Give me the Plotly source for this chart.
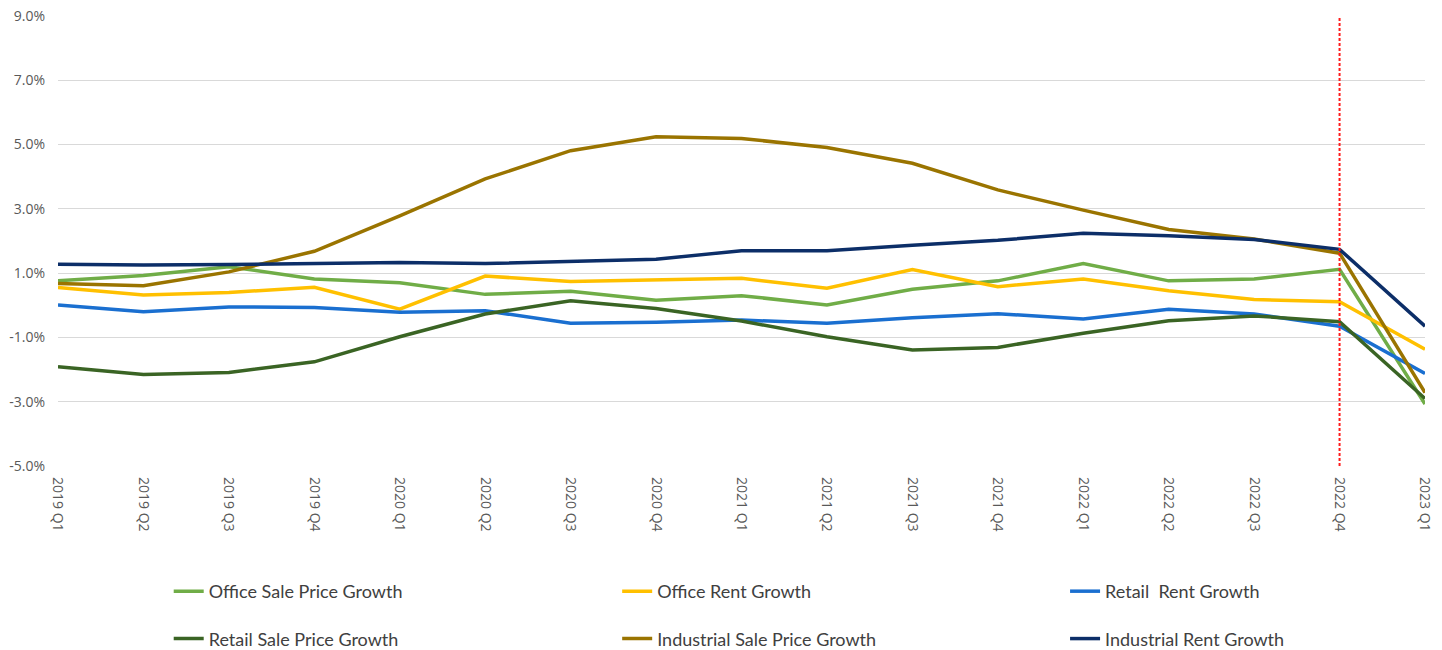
import plotly.graph_objects as go

quarters = ["2019 Q1", "2019 Q2", "2019 Q3", "2019 Q4",
            "2020 Q1", "2020 Q2", "2020 Q3", "2020 Q4",
            "2021 Q1", "2021 Q2", "2021 Q3", "2021 Q4",
            "2022 Q1", "2022 Q2", "2022 Q3", "2022 Q4",
            "2023 Q1"]

office_sale = [0.76, 0.93, 1.2, 0.82, 0.70, 0.34, 0.44, 0.16, 0.30, 0.01, 0.50, 0.76, 1.30, 0.76, 0.82, 1.12, -3.07]
office_rent = [0.55, 0.32, 0.40, 0.56, -0.12, 0.91, 0.74, 0.80, 0.84, 0.53, 1.11, 0.58, 0.82, 0.45, 0.18, 0.11, -1.37]
retail_rent = [0.01, -0.20, -0.05, -0.07, -0.22, -0.17, -0.56, -0.53, -0.46, -0.56, -0.39, -0.26, -0.43, -0.12, -0.27, -0.65, -2.12]
retail_sale = [-1.91, -2.15, -2.09, -1.76, -0.98, -0.27, 0.14, -0.10, -0.49, -0.98, -1.39, -1.31, -0.87, -0.48, -0.33, -0.51, -2.90]
industrial_sale = [0.68, 0.61, 1.04, 1.68, 2.78, 3.93, 4.81, 5.24, 5.19, 4.91, 4.42, 3.59, 2.96, 2.36, 2.06, 1.62, -2.72]
industrial_rent = [1.28, 1.25, 1.27, 1.30, 1.33, 1.30, 1.36, 1.43, 1.70, 1.70, 1.87, 2.02, 2.24, 2.16, 2.05, 1.74, -0.65]

y_tick_values = [-5, -3, -1, 1, 3, 5, 7, 9]
y_tick_labels = ["-5.0%", "-3.0%", "-1.0%", "1.0%", "3.0%", "5.0%", "7.0%", "9.0%"]

series_names = ["Office Sale Price Growth", "Office Rent Growth", "Retail  Rent Growth",
                "Retail Sale Price Growth", "Industrial Sale Price Growth", "Industrial Rent Growth"]
series_values = [office_sale, office_rent, retail_rent, retail_sale, industrial_sale, industrial_rent]
series_colors = ["#70AD47", "#FFC000", "#1A6FD0", "#3A6424", "#9A7400", "#0C2E68"]
# legend column for each series (3 columns x 2 rows)
series_legends = ["legend", "legend2", "legend3", "legend", "legend2", "legend3"]

marker_quarter = "2022 Q4"

fig = go.Figure()
for i, (name, vals, col, lg) in enumerate(zip(series_names, series_values, series_colors, series_legends)):
    fig.add_trace(go.Scatter(
        x=quarters, y=vals, name=name, mode="lines",
        line=dict(color=col, width=3.5),
        legend=lg, legendgroup="g%d" % i,
    ))

idx = quarters.index(marker_quarter)
fig.add_shape(type="line", xref="x", yref="y", x0=idx, x1=idx,
              y0=min(y_tick_values), y1=max(y_tick_values),
              line=dict(color="#FF1A1A", width=2, dash="3px,2px"), layer="above")

legend_font = dict(family="Lato, Open Sans, sans-serif", size=18, color="#404040")


def make_legend(xpos):
    return dict(orientation="v", xref="container", yref="container",
                x=xpos, xanchor="left", y=0.1185, yanchor="top",
                font=legend_font, tracegroupgap=21, itemwidth=30,
                bgcolor="rgba(0,0,0,0)", borderwidth=0)


tick_font = dict(family="Open Sans, sans-serif", size=14, color="#595959")
fig.update_layout(
    width=1442, height=650,
    margin=dict(l=58, r=17, t=16, b=184, autoexpand=False),
    paper_bgcolor="white", plot_bgcolor="white",
    showlegend=True,
    legend=make_legend(0.117),
    legend2=make_legend(0.428),
    legend3=make_legend(0.7386),
    xaxis=dict(type="category", range=[0, len(quarters) - 1], tickangle=90,
               showgrid=False, showline=False, zeroline=False, ticks="",
               automargin=False, ticklabelstandoff=10, tickfont=tick_font),
    yaxis=dict(range=[min(y_tick_values), max(y_tick_values)],
               tickmode="array", tickvals=y_tick_values, ticktext=y_tick_labels,
               showgrid=True, gridcolor="#D9D9D9", gridwidth=1.3, zeroline=False,
               showline=False, ticks="", automargin=False, ticklabelstandoff=12,
               tickfont=tick_font),
)

fig.write_html("out.html")
